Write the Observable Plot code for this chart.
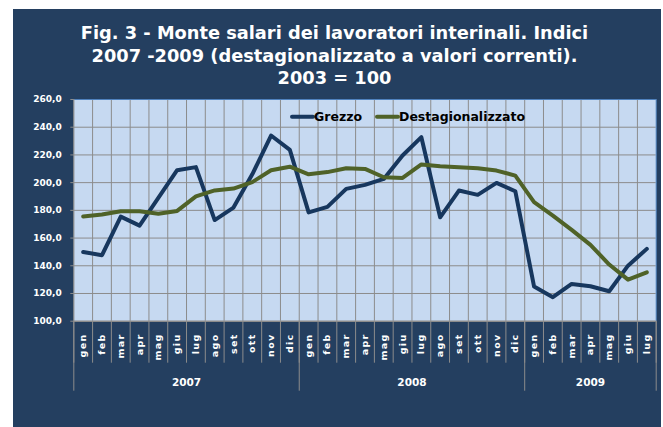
<!DOCTYPE html>
<html>
<head>
<meta charset="utf-8">
<script src="https://cdn.jsdelivr.net/npm/d3@7"></script>
<script src="https://cdn.jsdelivr.net/npm/@observablehq/plot@0.6"></script>
<style>
  html, body { margin: 0; padding: 0; background: #fff; }
  #page { position: relative; width: 663px; height: 427px; overflow: hidden; }
  #panel { position: absolute; left: 13px; top: 9px; width: 648px; height: 418px; background: #243F60; }
  #title { position: absolute; left: 3px; top: 22px; width: 663px; text-align: center;
           font-family: "DejaVu Sans", sans-serif;
           font-weight: bold; font-size: 17.8px; line-height: 22.5px; color: #fff; }
  #chart { position: absolute; left: 0; top: 90px; }
</style>
</head>
<body>
<div id="page">
  <div id="panel"></div>
  <div id="title"></div>
  <div id="chart"></div>
</div>
<script>
// ---- data ----
const titleLines = [
  "Fig. 3 - Monte salari dei lavoratori interinali. Indici",
  "2007 -2009 (destagionalizzato a valori correnti).",
  "2003 = 100"
];
const months = ["gen","feb","mar","apr","mag","giu","lug","ago","set","ott","nov","dic",
                "gen","feb","mar","apr","mag","giu","lug","ago","set","ott","nov","dic",
                "gen","feb","mar","apr","mag","giu","lug"];
const years = ["2007", "2008", "2009"];
const monthsPerYear = [12, 12, 7];
const seriesNames = ["Grezzo", "Destagionalizzato"];
const grezzo = [150.0,147.6,175.5,169.0,189.0,209.0,211.2,173.0,182.0,206.0,234.0,223.6,
                178.5,182.5,195.5,198.4,202.7,219.6,232.8,175.0,194.3,191.2,199.8,193.8,
                125.0,117.3,126.9,125.2,121.6,140.1,152.2];
const destag = [175.5,177.0,179.4,179.4,177.5,179.6,190.1,194.4,195.7,200.4,208.9,211.5,
                206.0,207.6,210.4,209.9,203.9,203.4,213.1,211.9,211.1,210.4,208.7,205.1,
                185.9,176.2,165.9,155.1,140.9,130.0,135.3];
const yTicks = [100,120,140,160,180,200,220,240,260];
const seriesColors = ["#17375E", "#4F6228"];

// ---- title ----
document.getElementById("title").innerHTML = titleLines.map(t => `<div>${t}</div>`).join("");

// ---- derived tables ----
const rows = months.map((m, i) => ({i, month: m, grezzo: grezzo[i], destag: destag[i]}));
const boundaries = d3.range(months.length + 1).map(k => k - 0.5);
const yearStarts = d3.cumsum([0, ...monthsPerYear]).slice(0, years.length + 1).map(v => v - 0.5);
const yearRows = years.map((y, j) => ({year: y, x: (yearStarts[j] + yearStarts[j + 1]) / 2}));

const W = 663, H = 337;
const mL = 73.3, mR = 7.3, mT = 9, mB = 106.3;
const plotH = H - mT - mB;
const grid = "#8C8C8C";

const chart = Plot.plot({
  width: W, height: H,
  marginLeft: mL, marginRight: mR, marginTop: mT, marginBottom: mB,
  style: {background: "none", fontFamily: "DejaVu Sans, sans-serif", fontWeight: "bold", fontSize: "9px", color: "#fff", overflow: "visible"},
  x: {type: "linear", domain: [-0.5, months.length - 0.5], axis: null},
  y: {type: "linear", domain: [100, 260], axis: null},
  marks: [
    Plot.frame({fill: "#C6D9F1", stroke: null}),
    Plot.ruleY(yTicks.filter(t => t > 100 && t < 260), {stroke: grid, strokeWidth: 1}),
    Plot.ruleX(boundaries.slice(1, -1), {stroke: grid, strokeWidth: 1}),
    Plot.ruleX(boundaries, {stroke: grid, strokeWidth: 1, insetTop: plotH, insetBottom: -42}),
    Plot.ruleX(yearStarts, {stroke: grid, strokeWidth: 1, insetTop: plotH, insetBottom: -70}),
    Plot.ruleY([260], {stroke: "#4F81BD", strokeWidth: 1}),
    Plot.ruleX([months.length - 0.5], {stroke: "#4F81BD", strokeWidth: 1}),
    Plot.ruleX([-0.5], {stroke: grid, strokeWidth: 1.2}),
    Plot.ruleY([100], {stroke: grid, strokeWidth: 1.5}),
    Plot.axisY({ticks: yTicks, tickFormat: d => d.toFixed(1).replace(".", ","), tickSize: 3, tickPadding: 9,
                stroke: grid, fill: "#fff", fontWeight: "bold", fontSize: 9, label: null}),
    Plot.line(rows, {x: "i", y: "grezzo", stroke: seriesColors[0], strokeWidth: 4, strokeLinejoin: "round", strokeLinecap: "round"}),
    Plot.line(rows, {x: "i", y: "destag", stroke: seriesColors[1], strokeWidth: 4, strokeLinejoin: "round", strokeLinecap: "round"}),
    Plot.text(rows, {x: "i", text: "month", frameAnchor: "bottom", dy: 12.3, rotate: -90,
                     textAnchor: "end", lineAnchor: "middle", fill: "#fff", fontSize: 9.5, fontWeight: "bold",
                     ariaDescription: "months"}),
    Plot.text(yearRows, {x: "x", text: "year", frameAnchor: "bottom", dy: 61, lineAnchor: "middle",
                         fill: "#fff", fontSize: 10.5, fontWeight: "bold"})
  ]
});

d3.select(chart).selectAll('g[aria-description="months"] text').style("letter-spacing", "1.3px");

// ---- legend (inside plot area) ----
const svg = d3.select(chart);
const lg = svg.append("g")
  .style("font-family", "DejaVu Sans, sans-serif").style("font-weight", "bold").style("font-size", "12.5px")
  .attr("text-anchor", "start");
const legendX = [292, 377];
seriesNames.forEach((name, k) => {
  lg.append("line").attr("x1", legendX[k]).attr("x2", legendX[k] + 21).attr("y1", 26.7).attr("y2", 26.7)
    .attr("stroke", seriesColors[k]).attr("stroke-width", 4).attr("stroke-linecap", "round");
  lg.append("text").attr("x", legendX[k] + 22).attr("y", 26.7).attr("dy", "0.36em")
    .attr("text-anchor", "start").style("font-size", "12.5px").attr("fill", "#000").text(name);
});

document.getElementById("chart").appendChild(chart);
</script>
</body>
</html>
